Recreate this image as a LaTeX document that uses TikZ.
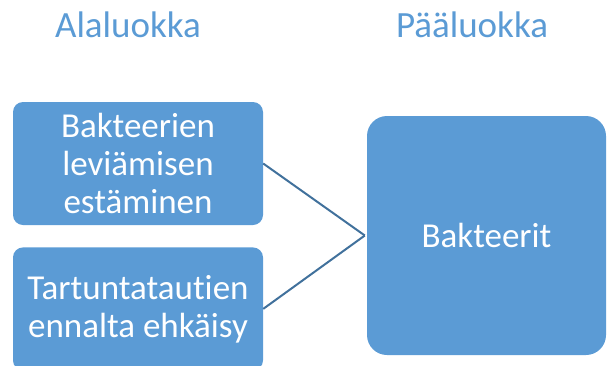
\documentclass[tikz,border=0pt]{standalone}
\usepackage{fontspec}
\setmainfont{Carlito}[Ligatures={NoCommon}]
\usetikzlibrary{positioning}
\definecolor{boxblue}{HTML}{5B9BD5}
\definecolor{lineblue}{HTML}{41719C}
\tikzset{
  luokka/.style={rectangle, draw=none, fill=boxblue, text=white, rounded corners=10pt,
    align=center, inner sep=0pt, font=\fontsize{35}{38}\selectfont},
  otsikko/.style={text=boxblue, anchor=base, inner sep=0pt, font=\fontsize{37}{40}\selectfont}
}
\begin{document}
\begin{tikzpicture}[x=1pt, y=-1pt, node distance=22pt]
    \useasboundingbox (0,0) rectangle (608,365);
    \clip (0,0) rectangle (608,365);

    \node(ala)[otsikko] at (128,37) {Alaluokka};
    \node(paa)[otsikko] at (472,37) {Pääluokka};

    \node(lev)[luokka, minimum width=250pt, minimum height=123pt] at (138,163.5) {Bakteerien\\leviämisen\\estäminen};
    \node(tar)[luokka, minimum width=250pt, minimum height=123pt, below=of lev] {Tartuntatautien\\ennalta ehkäisy};
    \node(bak)[luokka, minimum width=239pt, minimum height=239pt, rounded corners=20pt] at (486.5,235.5) {Bakteerit};

    \draw[lineblue, line width=2pt] (lev.east) -- ([xshift=-2pt]bak.west);
    \draw[lineblue, line width=2pt] (tar.east) -- ([xshift=-2pt]bak.west);

  \end{tikzpicture}
\end{document}
